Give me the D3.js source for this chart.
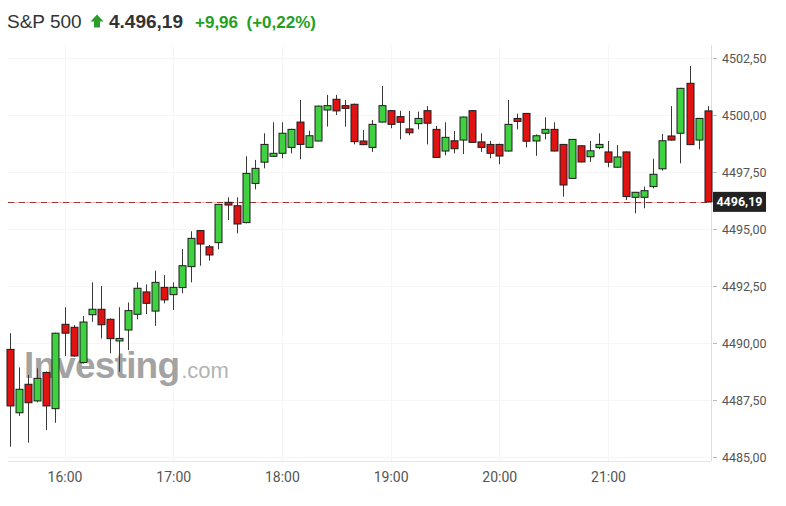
<!DOCTYPE html>
<html>
<head>
<meta charset="utf-8">
<script src="https://cdn.jsdelivr.net/npm/d3@7/dist/d3.min.js"></script>
<style>
  html, body { margin: 0; padding: 0; background: #fff; }
  svg { display: block; }
</style>
</head>
<body>
<svg id="chart" width="786" height="506"></svg>
<script>
// ---- Data (5-minute candles, S&P 500) ----
const times = ["15:30","15:35","15:40","15:45","15:50","15:55",
  "16:00","16:05","16:10","16:15","16:20","16:25","16:30","16:35","16:40","16:45","16:50","16:55",
  "17:00","17:05","17:10","17:15","17:20","17:25","17:30","17:35","17:40","17:45","17:50","17:55",
  "18:00","18:05","18:10","18:15","18:20","18:25","18:30","18:35","18:40","18:45","18:50","18:55",
  "19:00","19:05","19:10","19:15","19:20","19:25","19:30","19:35","19:40","19:45","19:50","19:55",
  "20:00","20:05","20:10","20:15","20:20","20:25","20:30","20:35","20:40","20:45","20:50","20:55",
  "21:00","21:05","21:10","21:15","21:20","21:25","21:30","21:35","21:40","21:45","21:50","21:55"];
const opens = [4489.72,4486.94,4488.19,4487.46,4488.71,4487.12,
  4490.82,4490.69,4489.14,4491.24,4491.48,4491.04,4490.09,4490.57,4491.26,4492.24,4491.40,4492.44,
  4492.12,4492.43,4493.35,4494.93,4494.22,4494.40,4496.17,4496.02,4495.28,4497.00,4497.93,4498.19,
  4498.32,4498.58,4499.69,4498.58,4498.86,4500.22,4500.69,4500.41,4500.47,4498.86,4498.58,4499.69,
  4500.19,4499.93,4499.39,4499.62,4500.19,4499.37,4498.42,4498.87,4498.90,4500.19,4498.82,4498.71,
  4498.71,4498.42,4499.85,4500.07,4498.86,4499.20,4499.37,4498.71,4497.22,4498.65,4498.17,4498.57,
  4498.38,4497.71,4498.38,4496.39,4496.39,4496.86,4497.64,4499.08,4499.20,4501.39,4498.90,4500.18];
const highs = [4490.43,4488.93,4488.60,4488.89,4488.75,4490.45,
  4491.57,4490.79,4491.18,4492.66,4492.50,4491.08,4491.57,4491.78,4492.66,4492.57,4493.17,4492.98,
  4492.66,4494.12,4494.90,4494.95,4494.30,4496.10,4496.39,4496.39,4498.19,4498.03,4499.20,4499.68,
  4499.68,4499.40,4500.66,4499.31,4500.41,4500.88,4500.88,4500.66,4500.50,4499.34,4499.78,4501.27,
  4500.22,4500.18,4500.18,4500.15,4500.39,4499.52,4499.68,4499.30,4499.93,4500.21,4499.20,4498.86,
  4498.74,4500.66,4500.06,4500.09,4499.15,4499.90,4499.68,4498.73,4498.95,4498.67,4498.86,4499.20,
  4498.86,4498.68,4498.40,4496.63,4496.86,4498.08,4499.17,4500.39,4501.19,4502.15,4499.87,4500.39];
const lows = [4485.45,4486.80,4485.63,4487.40,4486.18,4486.50,
  4489.43,4489.40,4489.10,4490.93,4490.20,4489.55,4488.74,4489.69,4491.04,4491.27,4490.75,4491.74,
  4491.45,4492.18,4492.66,4493.39,4493.61,4494.11,4495.39,4494.81,4495.25,4496.74,4497.66,4498.15,
  4498.10,4498.32,4498.06,4498.55,4498.84,4499.49,4500.00,4499.49,4498.71,4498.68,4498.38,4499.67,
  4499.42,4498.93,4499.11,4499.37,4498.71,4498.12,4498.23,4498.32,4498.29,4498.78,4498.38,4498.10,
  4497.84,4498.40,4499.37,4498.58,4498.21,4498.93,4498.40,4496.42,4497.20,4497.92,4497.94,4498.50,
  4497.71,4497.69,4496.27,4495.69,4495.91,4496.78,4497.56,4498.88,4497.88,4498.68,4498.50,4496.17];
const closes = [4487.24,4487.97,4487.38,4488.45,4487.24,4490.43,
  4490.43,4489.43,4490.92,4491.48,4490.80,4490.19,4490.20,4491.42,4492.40,4491.74,4492.66,4491.89,
  4492.44,4493.39,4494.59,4494.34,4493.86,4496.08,4496.05,4495.22,4497.44,4497.66,4498.71,4498.32,
  4499.20,4499.37,4498.71,4499.09,4500.39,4500.41,4500.18,4500.29,4498.83,4498.70,4499.59,4500.41,
  4499.59,4499.68,4499.22,4499.85,4499.64,4498.14,4499.02,4498.52,4499.91,4498.80,4498.58,4498.32,
  4498.20,4499.59,4499.72,4498.85,4499.09,4499.37,4498.42,4496.93,4498.93,4497.94,4498.43,4498.71,
  4497.93,4498.16,4496.42,4496.61,4496.68,4497.40,4498.87,4498.90,4501.17,4498.70,4499.85,4496.19];
const priceTicks = [4485, 4487.5, 4490, 4492.5, 4495, 4497.5, 4500, 4502.5];
const timeTicks = ["16:00","17:00","18:00","19:00","20:00","21:00"];
const lastPrice = 4496.19;
const headerName = "S&P 500";
const headerPrice = "4.496,19";
const headerChange = "+9,96";
const headerPct = "(+0,22%)";

// ---- Setup ----
const svg = d3.select("#chart");
const plot = { left: 8, right: 711, top: 45, bottom: 461 };

const parseT = d3.timeParse("%H:%M");
const tDates = times.map(parseT);

const x = d3.scaleTime()
  .domain([parseT("16:00"), parseT("21:00")])
  .range([64.5, 608]);
const y = d3.scaleLinear()
  .domain([4485, 4502.5])
  .range([457, 58]);

const fmtPrice = v => d3.format(".2f")(v).replace(".", ",");

// Grid
const grid = svg.append("g");
grid.selectAll("line.h").data(priceTicks).join("line")
  .attr("x1", plot.left).attr("x2", plot.right)
  .attr("y1", d => Math.round(y(d)) + 0.5).attr("y2", d => Math.round(y(d)) + 0.5)
  .attr("stroke", "#f6f6f6");
grid.selectAll("line.v").data(timeTicks).join("line")
  .attr("x1", d => Math.round(x(parseT(d))) + 0.5).attr("x2", d => Math.round(x(parseT(d))) + 0.5)
  .attr("y1", plot.top).attr("y2", plot.bottom)
  .attr("stroke", "#f6f6f6");

// Watermark
const wm = svg.append("text").attr("x", 24).attr("y", 378)
  .attr("font-family", "Liberation Sans, Arial, sans-serif");
wm.append("tspan").text("Investing")
  .attr("font-size", 37).attr("font-weight", "bold")
  .attr("letter-spacing", -0.8)
  .attr("fill", "#858585").attr("fill-opacity", 0.75);
wm.append("tspan").text(".com")
  .attr("font-size", 22).attr("fill", "#999").attr("fill-opacity", 0.75)
  .attr("dx", 2);

// Axes lines
svg.append("line")
  .attr("x1", plot.right + 0.5).attr("x2", plot.right + 0.5)
  .attr("y1", plot.top).attr("y2", plot.bottom)
  .attr("stroke", "#dedede");
svg.append("line")
  .attr("x1", plot.left).attr("x2", plot.right)
  .attr("y1", plot.bottom + 0.5).attr("y2", plot.bottom + 0.5)
  .attr("stroke", "#e6e6e6");

// Right price axis
const yAxis = d3.axisRight(y).tickValues(priceTicks).tickFormat(fmtPrice)
  .tickSize(4).tickPadding(5);
const yg = svg.append("g").attr("transform", `translate(${plot.right + 2},0)`).call(yAxis);
yg.select(".domain").remove();
yg.selectAll(".tick line").attr("stroke", "#bbb");
yg.selectAll(".tick text").attr("fill", "#555")
  .attr("font-family", "Roboto, sans-serif").attr("font-size", 12.5);

// Bottom time axis
const xAxis = d3.axisBottom(x).tickValues(timeTicks.map(parseT))
  .tickFormat(d3.timeFormat("%H:%M")).tickSize(0).tickPadding(11);
const xg = svg.append("g").attr("transform", `translate(0,${plot.bottom})`).call(xAxis);
xg.select(".domain").remove();
xg.selectAll(".tick text").attr("fill", "#555")
  .attr("font-family", "Roboto, sans-serif").attr("font-size", 14);

// Last price line
const ly = Math.round(y(lastPrice)) + 0.5;
svg.append("line").attr("x1", plot.left).attr("x2", plot.right)
  .attr("y1", ly).attr("y2", ly).attr("stroke", "#f3b7b7").attr("stroke-width", 1);
svg.append("line").attr("x1", plot.left).attr("x2", plot.right)
  .attr("y1", ly).attr("y2", ly).attr("stroke", "#9a3434")
  .attr("stroke-width", 1).attr("stroke-dasharray", "6,5");

// Candles
const candles = times.map((t, i) => ({ t: tDates[i], o: opens[i], h: highs[i], l: lows[i], c: closes[i] }));
const cg = svg.append("g");
const bw = 7;
const cx = d => Math.round(x(d.t)) + 0.5;
cg.selectAll("line.wick").data(candles).join("line")
  .attr("x1", cx).attr("x2", cx)
  .attr("y1", d => y(d.h)).attr("y2", d => y(d.l))
  .attr("stroke", "#3a3a3a").attr("stroke-width", 1);
cg.selectAll("rect.body").data(candles).join("rect")
  .attr("x", d => cx(d) - bw / 2)
  .attr("width", bw)
  .attr("y", d => y(Math.max(d.o, d.c)))
  .attr("height", d => Math.max(1.5, Math.abs(y(d.o) - y(d.c))))
  .attr("fill", d => d.c >= d.o ? "#3fd13f" : "#e01212")
  .attr("stroke", "#1c1c1c").attr("stroke-width", 1);

// Last price label box
const boxG = svg.append("g");
boxG.append("rect").attr("x", 713).attr("y", y(lastPrice) - 10)
  .attr("width", 53).attr("height", 20).attr("fill", "#222");
boxG.append("text").attr("x", 739.5).attr("y", y(lastPrice) + 4.5)
  .attr("text-anchor", "middle").attr("fill", "#fff")
  .attr("font-family", "Roboto, sans-serif").attr("font-weight", "bold").attr("font-size", 12.5)
  .text(fmtPrice(lastPrice));

// Header
const hdr = svg.append("g").attr("font-family", "Liberation Sans, Arial, sans-serif");
hdr.append("text").attr("x", 7).attr("y", 27.5).attr("font-size", 19).attr("fill", "#333")
  .text(headerName);
hdr.append("path")
  .attr("d", "M90.5,21.5 L97,14.5 L103.5,21.5 L100,21.5 L100,27.5 L94,27.5 L94,21.5 Z")
  .attr("fill", "#2a9d2a");
hdr.append("text").attr("x", 109).attr("y", 27.5).attr("font-size", 19).attr("font-weight", "bold")
  .attr("fill", "#333").text(headerPrice);
hdr.append("text").attr("x", 195).attr("y", 27.5).attr("font-size", 17).attr("font-weight", "bold")
  .attr("fill", "#23a023").text(headerChange);
hdr.append("text").attr("x", 246.5).attr("y", 27.5).attr("font-size", 17).attr("font-weight", "bold")
  .attr("fill", "#23a023").text(headerPct);
</script>
</body>
</html>
